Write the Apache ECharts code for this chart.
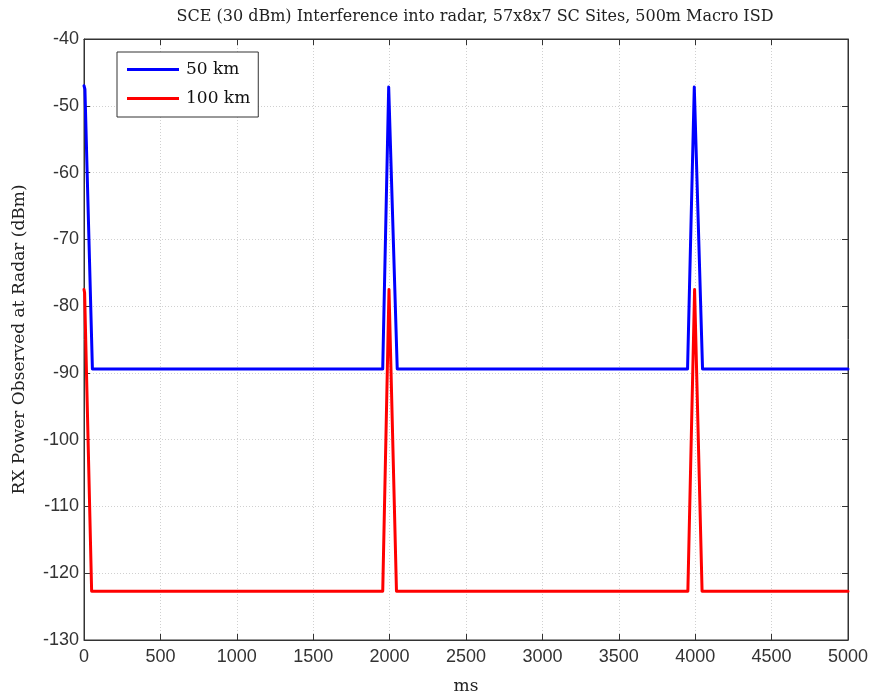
<!DOCTYPE html>
<html>
<head>
<meta charset="utf-8">
<script src="https://cdn.jsdelivr.net/npm/echarts@6/dist/echarts.min.js"></script>
<style>
  html, body { margin: 0; padding: 0; background: #fff; }
  #chart { width: 873px; height: 695px; }
</style>
</head>
<body>
<div id="chart"></div>
<script>
// data (ms, dBm)
const timeMs50 = [0, 6, 55, 1955, 1994, 2006, 2050, 3950, 3994, 4006, 4048, 5000];
const power50 = [-47, -47.5, -89.4, -89.4, -47.2, -47.2, -89.4, -89.4, -47.2, -47.2, -89.4, -89.4];
const timeMs100 = [0, 4, 50, 1955, 1996, 2004, 2045, 3952, 3996, 4004, 4045, 5000];
const power100 = [-77.5, -78, -122.7, -122.7, -77.5, -77.5, -122.7, -122.7, -77.5, -77.5, -122.7, -122.7];
const seriesNames = ['50 km', '100 km'];
const xTicks = [0, 500, 1000, 1500, 2000, 2500, 3000, 3500, 4000, 4500, 5000];
const yTicks = [-130, -120, -110, -100, -90, -80, -70, -60, -50, -40];

const pairUp = (xs, ys) => xs.map((x, i) => [x, ys[i]]); //组合成点

const chart = echarts.init(document.getElementById('chart'));
const serif = 'DejaVu Serif';
const sans = 'Liberation Sans';

const gridLine = { show: true, lineStyle: { color: '#d0d0d0', type: [1, 2], width: 1 } };
const axisLine = { show: true, onZero: false, lineStyle: { color: '#333', width: 1 } };
const tick = { show: true, inside: true, length: 6, lineStyle: { color: '#333' } };

let option = {
  backgroundColor: '#fff',
  animation: false,
  title: {
    text: 'SCE (30 dBm) Interference into radar, 57x8x7 SC Sites, 500m Macro ISD',
    left: 470, top: 4, textAlign: 'center',
    textStyle: { fontFamily: serif, fontSize: 16, fontWeight: 'normal', color: '#222' }
  },
  grid: { left: 84, right: 25, top: 39, bottom: 55, show: true, borderColor: '#333', borderWidth: 1,
    containLabel: false, outerBoundsMode: 'none' },
  legend: {
    data: seriesNames,
    orient: 'vertical',
    left: 117, top: 52,
    padding: [9, 8, 10, 10],
    itemGap: 12,
    itemWidth: 52, itemHeight: 14,
    backgroundColor: '#fff',
    borderColor: '#333', borderWidth: 1,
    icon: 'path://M0,5.5 L52,5.5 L52,8.5 L0,8.5 Z',
    textStyle: { fontFamily: serif, fontSize: 17, color: '#111', padding: [0, 0, 0, 2] }
  },
  xAxis: [
    {
      type: 'value', min: 0, max: 5000, interval: 500,
      name: 'ms', nameLocation: 'middle', nameGap: 38,
      nameTextStyle: { fontFamily: serif, fontSize: 17, color: '#222' },
      axisLine: axisLine, axisTick: tick,
      axisLabel: { fontFamily: sans, fontSize: 18, color: '#333', margin: 8,
        formatter: v => xTicks.includes(v) ? String(v) : '' },
      splitLine: gridLine
    },
    {
      type: 'value', min: 0, max: 5000, interval: 500, position: 'top',
      axisLine: axisLine, axisTick: tick,
      axisLabel: { show: false }, splitLine: { show: false }
    }
  ],
  yAxis: [
    {
      type: 'value', min: -130, max: -40, interval: 10,
      name: 'RX Power Observed at Radar (dBm)', nameLocation: 'middle', nameGap: 56,
      nameTextStyle: { fontFamily: serif, fontSize: 17, color: '#222' },
      axisLine: axisLine, axisTick: tick,
      axisLabel: { fontFamily: sans, fontSize: 18, color: '#333', margin: 5,
        formatter: v => yTicks.includes(v) ? String(v) : '' },
      splitLine: gridLine
    },
    {
      type: 'value', min: -130, max: -40, interval: 10, position: 'right',
      axisLine: axisLine, axisTick: tick,
      axisLabel: { show: false }, splitLine: { show: false }
    }
  ],
  series: [
    {
      name: seriesNames[0], type: 'line', showSymbol: false, symbol: 'none',
      color: '#0000ff',
      lineStyle: { width: 3, color: '#0000ff', join: 'round', cap: 'round' },
      data: pairUp(timeMs50, power50)
    },
    {
      name: seriesNames[1], type: 'line', showSymbol: false, symbol: 'none',
      color: '#ff0000',
      lineStyle: { width: 3, color: '#ff0000', join: 'round', cap: 'round' },
      data: pairUp(timeMs100, power100)
    }
  ]
};
option && chart.setOption(option);
</script>
</body>
</html>
